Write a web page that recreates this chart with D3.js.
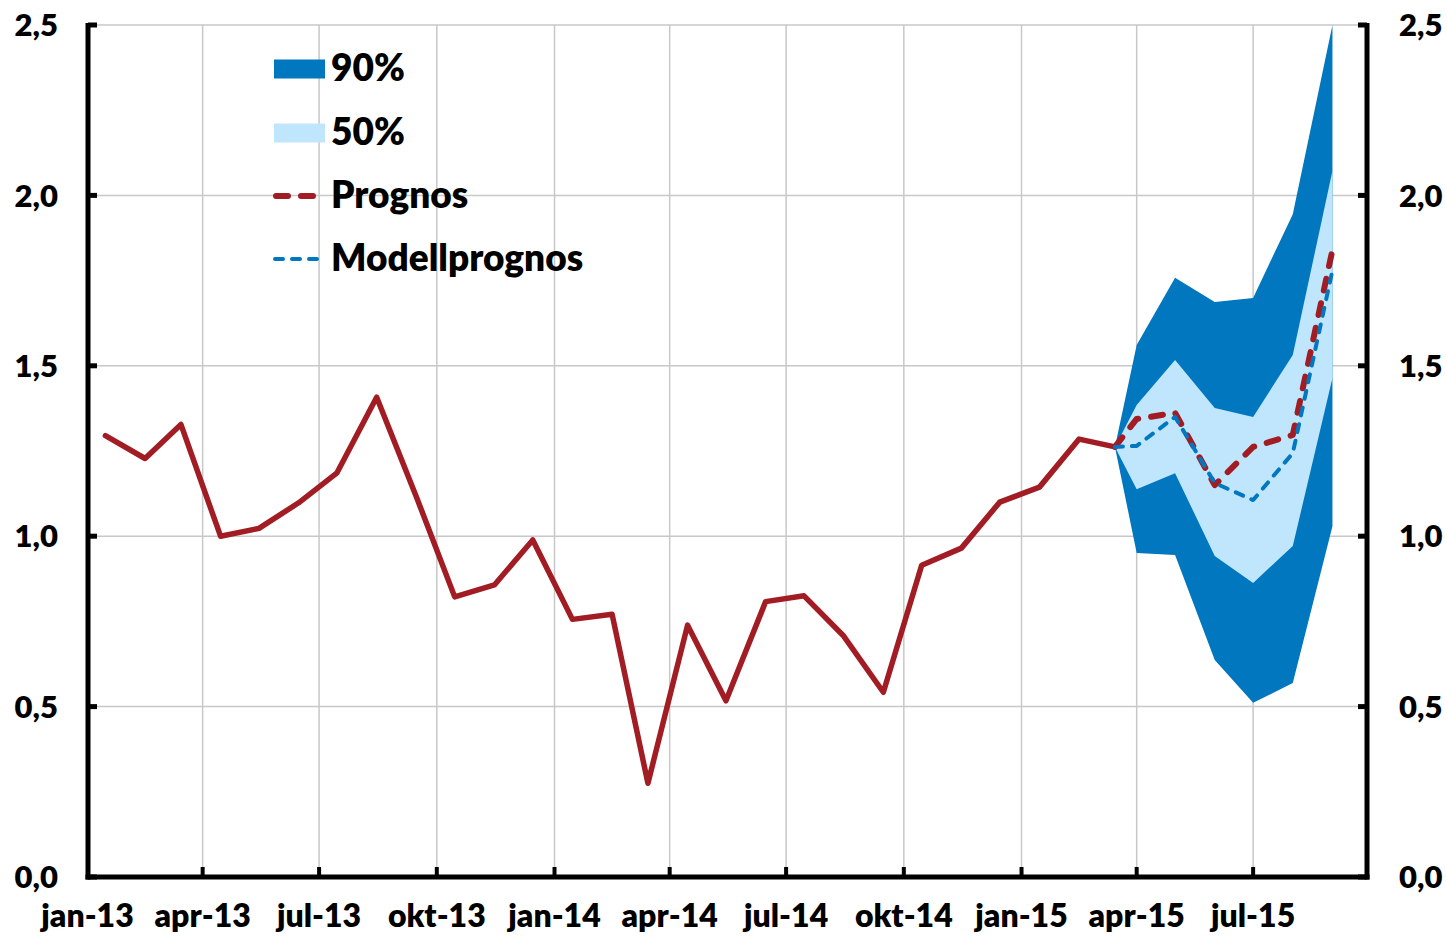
<!DOCTYPE html>
<html>
<head>
<meta charset="utf-8">
<script src="https://cdn.jsdelivr.net/npm/d3@7"></script>
<style>
  html, body { margin: 0; padding: 0; background: #fff; }
  svg { display: block; }
  text { font-family: Lato, "Open Sans", sans-serif; font-weight: 800; fill: #000; }
</style>
</head>
<body>
<svg id="chart" width="1447" height="936"></svg>
<script>
// ---------- DATA ----------
const histDates = ["2013-01-15","2013-02-15","2013-03-15","2013-04-15","2013-05-15","2013-06-15",
  "2013-07-15","2013-08-15","2013-09-15","2013-10-15","2013-11-15","2013-12-15",
  "2014-01-15","2014-02-15","2014-03-15","2014-04-15","2014-05-15","2014-06-15",
  "2014-07-15","2014-08-15","2014-09-15","2014-10-15","2014-11-15","2014-12-15",
  "2015-01-15","2015-02-15","2015-03-15"];
const histValues = [1.295,1.228,1.328,1.000,1.023,1.098,1.186,1.408,1.116,0.822,0.857,0.989,
  0.756,0.771,0.275,0.739,0.517,0.808,0.825,0.707,0.542,0.915,0.965,1.100,1.144,1.285,1.262];

const fcDates = ["2015-03-15","2015-04-01","2015-05-01","2015-06-01","2015-07-01","2015-08-01","2015-09-01"];
const prognos  = [1.262, 1.344, 1.362, 1.150, 1.262, 1.297, 1.840];
const modell   = [1.262, 1.265, 1.350, 1.156, 1.106, 1.244, 1.780];
const upper90  = [1.262, 1.561, 1.758, 1.687, 1.699, 1.945, 2.500];
const upper50  = [1.262, 1.385, 1.517, 1.376, 1.350, 1.532, 2.072];
const lower50  = [1.262, 1.138, 1.185, 0.942, 0.863, 0.971, 1.464];
const lower90  = [1.262, 0.951, 0.945, 0.637, 0.511, 0.569, 1.029];

const tickDates  = ["2013-01-01","2013-04-01","2013-07-01","2013-10-01","2014-01-01","2014-04-01",
  "2014-07-01","2014-10-01","2015-01-01","2015-04-01","2015-07-01"];
const tickLabels = ["jan-13","apr-13","jul-13","okt-13","jan-14","apr-14","jul-14","okt-14","jan-15","apr-15","jul-15"];
const yTicks = [0, 0.5, 1.0, 1.5, 2.0, 2.5];

const legendLabels = ["90%", "50%", "Prognos", "Modellprognos"];

(function () {
// ---------- SETUP ----------
const parse = d3.timeParse("%Y-%m-%d");
const svg = d3.select("#chart");
const W = 1447, H = 936;
const pL = 88, pR = 1367, pT = 25, pB = 877;

const x = d3.scaleTime()
  .domain([parse("2013-01-01"), parse("2015-09-28")])
  .range([87.5, pR]);
const y = d3.scaleLinear().domain([0, 2.5]).range([pB, pT]);

const RED = "#A21C24", DARK = "#0077BE", LIGHT = "#BFE6FC", BLUE = "#0077C0", GRID = "#C8C8C8";

svg.append("rect").attr("width", W).attr("height", H).attr("fill", "#fff");

// gridlines
const gy = svg.append("g");
gy.selectAll("line.h").data(yTicks.filter(d => d > 0)).join("line")
  .attr("x1", pL).attr("x2", pR)
  .attr("y1", d => y(d)).attr("y2", d => y(d))
  .attr("stroke", GRID).attr("stroke-width", 1.5);
gy.selectAll("line.v").data(tickDates.slice(1)).join("line")
  .attr("x1", d => x(parse(d))).attr("x2", d => x(parse(d)))
  .attr("y1", pT).attr("y2", pB)
  .attr("stroke", GRID).attr("stroke-width", 1.5);

// fan
const fc = fcDates.map((d, i) => ({ date: parse(d), p: prognos[i], m: modell[i],
  u90: upper90[i], l90: lower90[i], u50: upper50[i], l50: lower50[i] }));
svg.append("path").datum(fc)
  .attr("d", d3.area().x(d => x(d.date)).y0(d => y(d.l90)).y1(d => y(d.u90)))
  .attr("fill", DARK);
svg.append("path").datum(fc)
  .attr("d", d3.area().x(d => x(d.date)).y0(d => y(d.l50)).y1(d => y(d.u50)))
  .attr("fill", LIGHT);

// historical line
const hist = histDates.map((d, i) => ({ date: parse(d), v: histValues[i] }));
svg.append("path").datum(hist)
  .attr("d", d3.line().x(d => x(d.date)).y(d => y(d.v)))
  .attr("fill", "none").attr("stroke", RED).attr("stroke-width", 5.5)
  .attr("stroke-linejoin", "round").attr("stroke-linecap", "round");

// forecast lines
svg.append("path").datum(fc)
  .attr("d", d3.line().x(d => x(d.date)).y(d => y(d.p)))
  .attr("fill", "none").attr("stroke", RED).attr("stroke-width", 6)
  .attr("stroke-dasharray", "12,13").attr("stroke-linecap", "round").attr("stroke-linejoin", "round");
svg.append("path").datum(fc)
  .attr("d", d3.line().x(d => x(d.date)).y(d => y(d.m)))
  .attr("fill", "none").attr("stroke", BLUE).attr("stroke-width", 4)
  .attr("stroke-dasharray", "8,9").attr("stroke-linecap", "round").attr("stroke-linejoin", "round");

// axes
const ax = svg.append("g");
ax.append("line").attr("x1", pL).attr("x2", pL).attr("y1", pT - 2).attr("y2", pB + 2.5)
  .attr("stroke", "#000").attr("stroke-width", 5);
ax.append("line").attr("x1", pR).attr("x2", pR).attr("y1", pT - 2).attr("y2", pB + 2.5)
  .attr("stroke", "#000").attr("stroke-width", 5);
ax.append("line").attr("x1", pL - 2.5).attr("x2", pR + 2.5).attr("y1", pB).attr("y2", pB)
  .attr("stroke", "#000").attr("stroke-width", 5);

ax.selectAll("line.lt").data(yTicks).join("line")
  .attr("x1", pL).attr("x2", pL + 9)
  .attr("y1", d => y(d)).attr("y2", d => y(d))
  .attr("stroke", "#000").attr("stroke-width", 5);
ax.selectAll("line.rt").data(yTicks).join("line")
  .attr("x1", pR - 9).attr("x2", pR)
  .attr("y1", d => y(d)).attr("y2", d => y(d))
  .attr("stroke", "#000").attr("stroke-width", 5);
ax.selectAll("line.bt").data(tickDates.slice(1)).join("line")
  .attr("x1", d => x(parse(d))).attr("x2", d => x(parse(d)))
  .attr("y1", pB).attr("y2", pB - 10)
  .attr("stroke", "#000").attr("stroke-width", 4);

const fmt = d => d3.format(".1f")(d).replace(".", ",");
ax.selectAll("text.yl").data(yTicks).join("text")
  .attr("x", 58).attr("y", d => y(d)).attr("dy", "0.36em")
  .attr("text-anchor", "end").attr("font-size", 31).text(fmt);
ax.selectAll("text.yr").data(yTicks).join("text")
  .attr("x", 1399).attr("y", d => y(d)).attr("dy", "0.36em")
  .attr("text-anchor", "start").attr("font-size", 31).text(fmt);
ax.selectAll("text.xl").data(tickDates).join("text")
  .attr("x", d => x(parse(d))).attr("y", 927)
  .attr("text-anchor", "middle").attr("font-size", 32)
  .text((d, i) => tickLabels[i]);

// legend
const lg = svg.append("g");
const rowsY = [69, 133, 196, 259];
lg.append("rect").attr("x", 274).attr("y", rowsY[0] - 9.5).attr("width", 51).attr("height", 19).attr("fill", DARK);
lg.append("rect").attr("x", 274).attr("y", rowsY[1] - 9.5).attr("width", 51).attr("height", 19).attr("fill", LIGHT);
lg.append("line").attr("x1", 276).attr("x2", 326).attr("y1", rowsY[2]).attr("y2", rowsY[2])
  .attr("stroke", RED).attr("stroke-width", 6).attr("stroke-dasharray", "12,13").attr("stroke-linecap", "round");
lg.append("line").attr("x1", 275).attr("x2", 317).attr("y1", rowsY[3]).attr("y2", rowsY[3])
  .attr("stroke", BLUE).attr("stroke-width", 4).attr("stroke-dasharray", "8,9").attr("stroke-linecap", "round");
lg.selectAll("text").data(legendLabels).join("text")
  .attr("x", 331).attr("y", (d, i) => rowsY[i] + 12)
  .attr("font-size", 37).text(d => d);
})();
</script>
</body>
</html>
